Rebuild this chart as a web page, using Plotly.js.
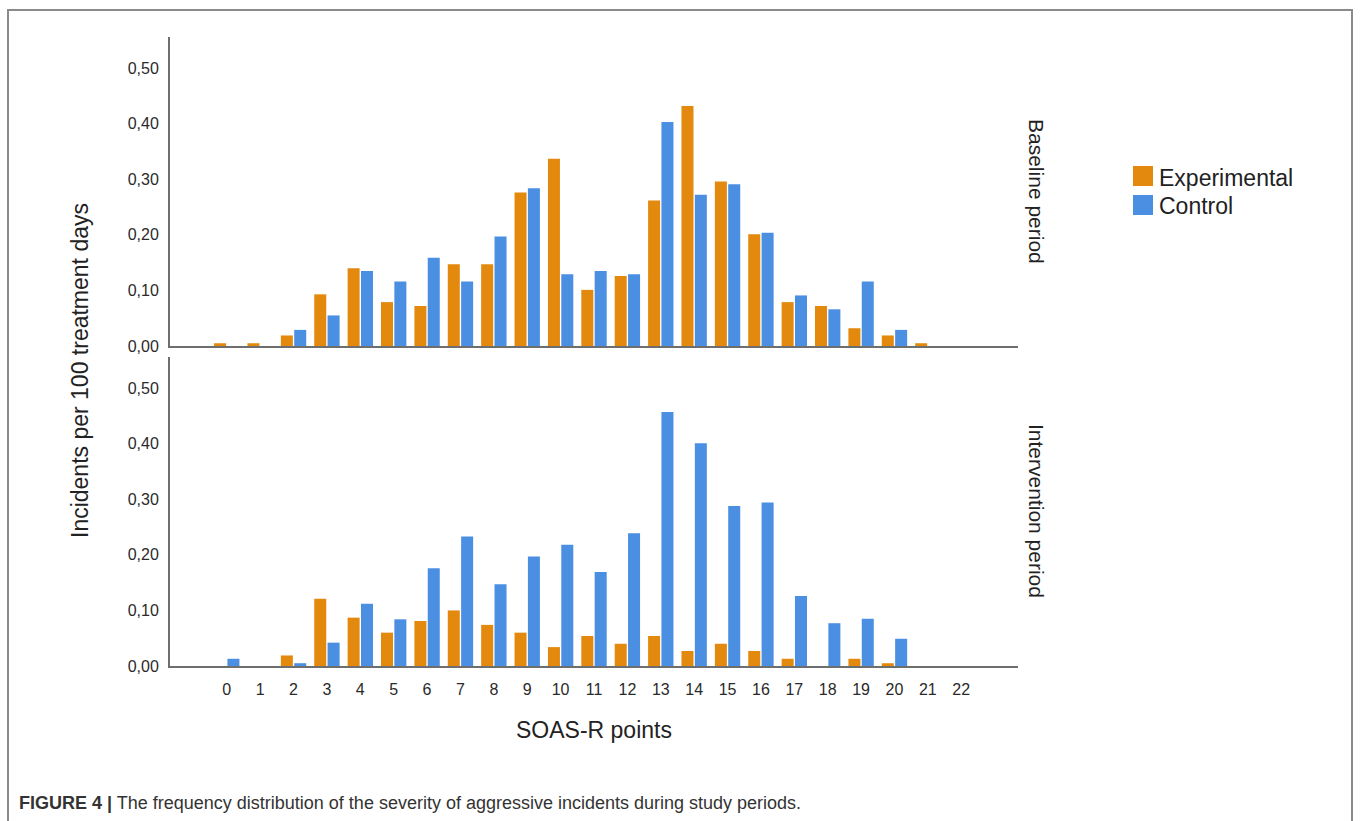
<!DOCTYPE html>
<html>
<head>
<meta charset="utf-8">
<script src="https://cdn.plot.ly/plotly-3.0.1.min.js"></script>
<style>
html,body{margin:0;padding:0;background:#fff;}
#chart{width:1360px;height:821px;}
</style>
</head>
<body>
<div id="chart"></div>
<script>
// SOAS-R points (categories)
const soasPoints = [0,1,2,3,4,5,6,7,8,9,10,11,12,13,14,15,16,17,18,19,20,21,22];
const tickLabels = soasPoints.map(String);
const yTicks = [0, 0.1, 0.2, 0.3, 0.4, 0.5];

// Baseline period
const baselineExperimental = [0.005,0.005,0.019,0.093,0.140,0.079,0.072,0.147,0.147,0.276,0.337,0.101,0.126,0.262,0.432,0.296,0.201,0.079,0.072,0.032,0.019,0.005,0];
const baselineControl      = [0,0,0.029,0.055,0.135,0.116,0.159,0.116,0.197,0.284,0.129,0.135,0.129,0.403,0.272,0.291,0.204,0.091,0.066,0.116,0.029,0,0];

// Intervention period
const interventionExperimental = [0,0,0.019,0.121,0.087,0.060,0.081,0.100,0.074,0.060,0.034,0.054,0.040,0.054,0.027,0.040,0.027,0.013,0,0.013,0.005,0,0];
const interventionControl      = [0.013,0,0.005,0.042,0.112,0.084,0.176,0.233,0.147,0.197,0.218,0.169,0.239,0.457,0.401,0.288,0.294,0.126,0.077,0.085,0.049,0,0];

const seriesNames = ['Experimental', 'Control'];
const panelNames = ['Baseline period', 'Intervention period'];

const ORANGE = '#E38A0E';
const BLUE = '#4B8FE2';
const W = 1360, H = 821;
const px = x => x / W;
const py = y => 1 - y / H;
const FONT = 'Liberation Sans, Arial, sans-serif';

function bar(y, name, color, xa, ya) {
  return {type:'bar', x: soasPoints, y: y, name: name, xaxis: xa, yaxis: ya,
          marker:{color: color, line:{width:0}}, showlegend:false, hoverinfo:'x+y+name'};
}

const data = [
  bar(baselineExperimental, seriesNames[0], ORANGE, 'x', 'y'),
  bar(baselineControl, seriesNames[1], BLUE, 'x', 'y'),
  bar(interventionExperimental, seriesNames[0], ORANGE, 'x2', 'y2'),
  bar(interventionControl, seriesNames[1], BLUE, 'x2', 'y2')
];

const axisLine = {showline:true, linecolor:'#6e6e6e', linewidth:2, showgrid:false, zeroline:false, ticks:''};
const xBase = Object.assign({}, axisLine, {domain:[px(170), px(1018)], range:[-1.7, 23.7],
  tickmode:'array', tickvals: soasPoints, ticktext: tickLabels, fixedrange:true,
  tickfont:{family:FONT, size:16, color:'#2a2a2a'}});
const yBase = Object.assign({}, axisLine, {range:[0, 0.556], tickmode:'array', tickvals: yTicks,
  tickformat:'.2f', ticklabelstandoff:6, tickfont:{family:FONT, size:16, color:'#2a2a2a'}});

function ann(x, y, text, size, extra) {
  return Object.assign({xref:'paper', yref:'paper', x:px(x), y:py(y), text:text,
    xanchor:'center', yanchor:'middle', showarrow:false,
    font:{family:FONT, size:size, color:'#222'}}, extra || {});
}

const layout = {
  width: W, height: H,
  margin:{l:0, r:0, t:0, b:0},
  paper_bgcolor:'#fff', plot_bgcolor:'#fff',
  separators: ',.',
  barmode:'group', bargap:0.2, bargroupgap:0.1,
  showlegend:false,
  font:{family:FONT, color:'#222'},
  xaxis: Object.assign({}, xBase, {anchor:'y', showticklabels:false}),
  yaxis: Object.assign({}, yBase, {anchor:'x', domain:[py(346), py(37)]}),
  xaxis2: Object.assign({}, xBase, {anchor:'y2', ticklabelstandoff:8}),
  yaxis2: Object.assign({}, yBase, {anchor:'x2', domain:[py(666), py(357)]}),
  shapes: [
    {type:'rect', xref:'paper', yref:'paper', x0:px(8), x1:px(1352), y0:-0.05, y1:py(10),
     line:{color:'#8a8a8a', width:2}, fillcolor:'rgba(0,0,0,0)', layer:'below'},
    {type:'rect', xref:'paper', yref:'paper', x0:px(1133), x1:px(1153), y0:py(186), y1:py(166),
     line:{width:0}, fillcolor:ORANGE},
    {type:'rect', xref:'paper', yref:'paper', x0:px(1133), x1:px(1153), y0:py(215), y1:py(195),
     line:{width:0}, fillcolor:BLUE}
  ],
  annotations: [
    ann(80, 371, 'Incidents per 100 treatment days', 23, {textangle:-90}),
    ann(594, 730, 'SOAS-R points', 23),
    ann(1037, 191, panelNames[0], 21, {textangle:90}),
    ann(1037, 511, panelNames[1], 21, {textangle:90}),
    ann(1157, 178, seriesNames[0], 23, {xanchor:'left'}),
    ann(1157, 206, seriesNames[1], 23, {xanchor:'left'}),
    ann(17, 803, '<b>FIGURE 4 |</b> The frequency distribution of the severity of aggressive incidents during study periods.', 18,
        {xanchor:'left', font:{family:FONT, size:18, color:'#333'}})
  ]
};

Plotly.newPlot('chart', data, layout, {staticPlot:true, displayModeBar:false});
</script>
</body>
</html>
